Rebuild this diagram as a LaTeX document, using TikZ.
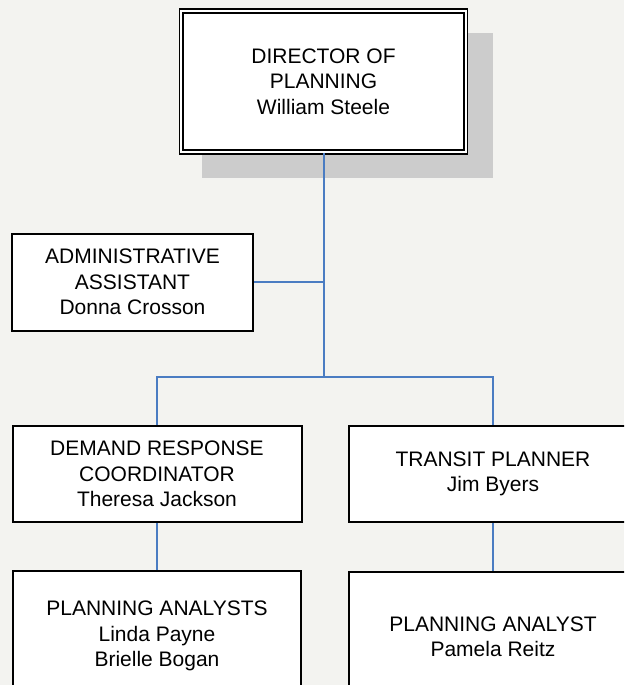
\documentclass[tikz,border=0pt]{standalone}
\usepackage{fontspec}
\setmainfont{Liberation Sans}
\definecolor{pagebg}{RGB}{243,243,240}
\definecolor{shadowgray}{RGB}{204,204,204}
\definecolor{linkblue}{RGB}{74,124,194}
\tikzset{
  orgbox/.style={draw=black, fill=white, line width=2pt, align=center,
    inner sep=0pt, font=\fontsize{21}{25.5}\selectfont},
  headbox/.style={orgbox, line width=1.4pt, double=white, double distance=2.4pt},
  link/.style={draw=linkblue, line width=2pt}
}
\begin{document}
\begin{tikzpicture}[x=1pt,y=-1pt]
  \useasboundingbox (0,0) rectangle (624,685);
  \clip (0,0) rectangle (624,685);
  \fill[pagebg] (0,0) rectangle (624,685);

  % drop shadow behind the director's box
  \fill[shadowgray] (202,33) rectangle (493,178);

  % boxes
  \node[headbox, minimum width=284.5pt, minimum height=141pt] (dir) at (323.5,81.5)
    {DIRECTOR OF\\PLANNING\\William Steele};
  \node[orgbox, minimum width=241pt, minimum height=97pt] (adm) at (132.5,282)
    {ADMINISTRATIVE\\ASSISTANT\\Donna Crosson};
  \node[orgbox, minimum width=289pt, minimum height=96pt] (dem) at (157,474)
    {DEMAND RESPONSE\\COORDINATOR\\Theresa Jackson};
  \node[orgbox, minimum width=288pt, minimum height=96pt] (tra) at (493,474)
    {TRANSIT PLANNER\\Jim Byers};
  \node[orgbox, minimum width=288pt, minimum height=130pt] (ana) at (157,636)
    {PLANNING ANALYSTS\\Linda Payne\\Brielle Bogan};
  \node[orgbox, minimum width=288pt, minimum height=130pt] (pra) at (493,637)
    {PLANNING ANALYST\\Pamela Reitz};

  % reporting lines
  \coordinate (jn) at (323.5,377);
  \draw[link] (dir.south) -- (jn);
  \draw[link] (adm.east) -- (adm.east -| jn);
  \draw[link] (dem.north) |- (jn) -| (tra.north);
  \draw[link] (dem.south) -- (ana.north);
  \draw[link] (tra.south) -- (pra.north);
\end{tikzpicture}
\end{document}
